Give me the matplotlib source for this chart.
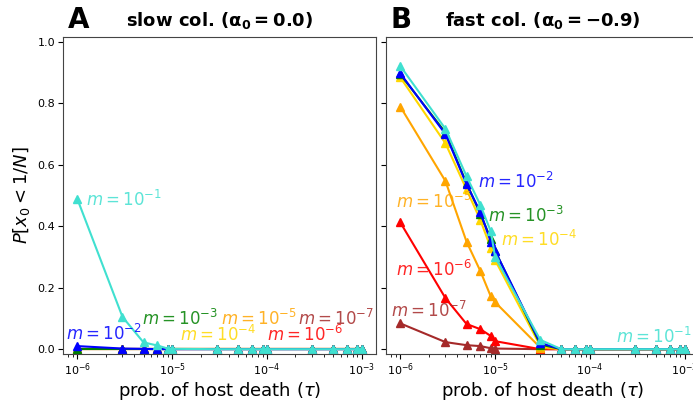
import matplotlib.pyplot as plt

# host death probabilities (tau)
tau = [1e-6, 3e-6, 5e-6, 7e-6, 9e-6, 1e-5, 3e-5, 5e-5, 7e-5, 9e-5,
       1e-4, 3e-4, 5e-4, 7e-4, 9e-4, 1e-3]

m_exps = [-7, -6, -5, -4, -3, -2, -1]
colors = ['brown', 'red', 'orange', 'gold', 'green', 'blue', 'turquoise']

z = [0.0] * 10

# slow colonisation, alpha0 = 0.0
slow = {
    -7: [0.0, 0.0, 0.0, 0.0, 0.0, 0.0] + z,
    -6: [0.0, 0.0, 0.0, 0.0, 0.0, 0.0] + z,
    -5: [0.0, 0.0, 0.0, 0.0, 0.0, 0.0] + z,
    -4: [0.0, 0.0, 0.0, 0.0, 0.0, 0.0] + z,
    -3: [0.0, 0.0, 0.0, 0.0, 0.0, 0.0] + z,
    -2: [0.01, 0.002, 0.001, 0.0, 0.0, 0.0] + z,
    -1: [0.49, 0.105, 0.022, 0.012, 0.002, 0.001] + z,
}

# fast colonisation, alpha0 = -0.9
fast = {
    -7: [0.084, 0.023, 0.013, 0.01, 0.003, 0.002, 0.0, 0.0] + z[:8],
    -6: [0.413, 0.166, 0.082, 0.065, 0.043, 0.026, 0.0, 0.0] + z[:8],
    -5: [0.79, 0.547, 0.35, 0.254, 0.172, 0.153, 0.005, 0.0] + z[:8],
    -4: [0.885, 0.67, 0.52, 0.42, 0.33, 0.29, 0.01, 0.0] + z[:8],
    -3: [0.895, 0.705, 0.54, 0.44, 0.36, 0.32, 0.015, 0.0] + z[:8],
    -2: [0.898, 0.70, 0.537, 0.446, 0.35, 0.32, 0.02, 0.0] + z[:8],
    -1: [0.922, 0.717, 0.563, 0.469, 0.384, 0.30, 0.03, 0.0] + z[:8],
}

# label anchors (tau, P) for each m
slow_labels = {
    -1: (1.24e-6, 0.485), -2: (7.7e-7, 0.05), -3: (4.8e-6, 0.10),
    -4: (1.2e-5, 0.045), -5: (3.3e-5, 0.10), -6: (9.9e-5, 0.045),
    -7: (2.1e-4, 0.10),
}
fast_labels = {
    -2: (6.6e-6, 0.545), -3: (8.5e-6, 0.435), -4: (1.15e-5, 0.355),
    -5: (9.1e-7, 0.48), -6: (9.1e-7, 0.257), -7: (7.9e-7, 0.125),
    -1: (1.9e-4, 0.04),
}

fig = plt.figure(figsize=(6.93, 4.01), dpi=100)
ax1 = fig.add_axes([0.0909, 0.117, 0.4517, 0.7905])
ax2 = fig.add_axes([0.557, 0.117, 0.4517, 0.7905], sharey=ax1)

panels = [
    (ax1, slow, slow_labels, 'A', r'slow col. ($\mathbf{\alpha_0 = 0.0}$)'),
    (ax2, fast, fast_labels, 'B', r'fast col. ($\mathbf{\alpha_0 = -0.9}$)'),
]

for ax, data, labels, letter, title in panels:
    for e, c in zip(m_exps, colors):
        ax.plot(tau, data[e], '-^', color=c, lw=1.5, ms=6)
        lx, ly = labels[e]
        ax.text(lx, ly, r'$m = 10^{%d}$' % e, color=c, alpha=0.85,
                fontsize=12, va='center', ha='left')
    ax.set_xscale('log')
    ax.set_ylim(-0.016, 1.016)
    ax.set_xlabel(r'prob. of host death ($\tau$)', fontsize=13, labelpad=1)
    ax.set_title(title, fontsize=13, fontweight='bold', pad=8)
    ax.text(0.015, 1.028, letter, transform=ax.transAxes, fontsize=20,
            fontweight='bold', va='baseline', ha='left')
    ax.tick_params(labelsize=8, pad=2)
    for s in ax.spines.values():
        s.set_color('#444444')

ax1.set_ylabel(r'$P[x_0 < 1/N]$', fontsize=13)
ax1.set_yticks([0.0, 0.2, 0.4, 0.6, 0.8, 1.0])
plt.setp(ax2.get_yticklabels(), visible=False)

plt.savefig('out.png', dpi=100)
